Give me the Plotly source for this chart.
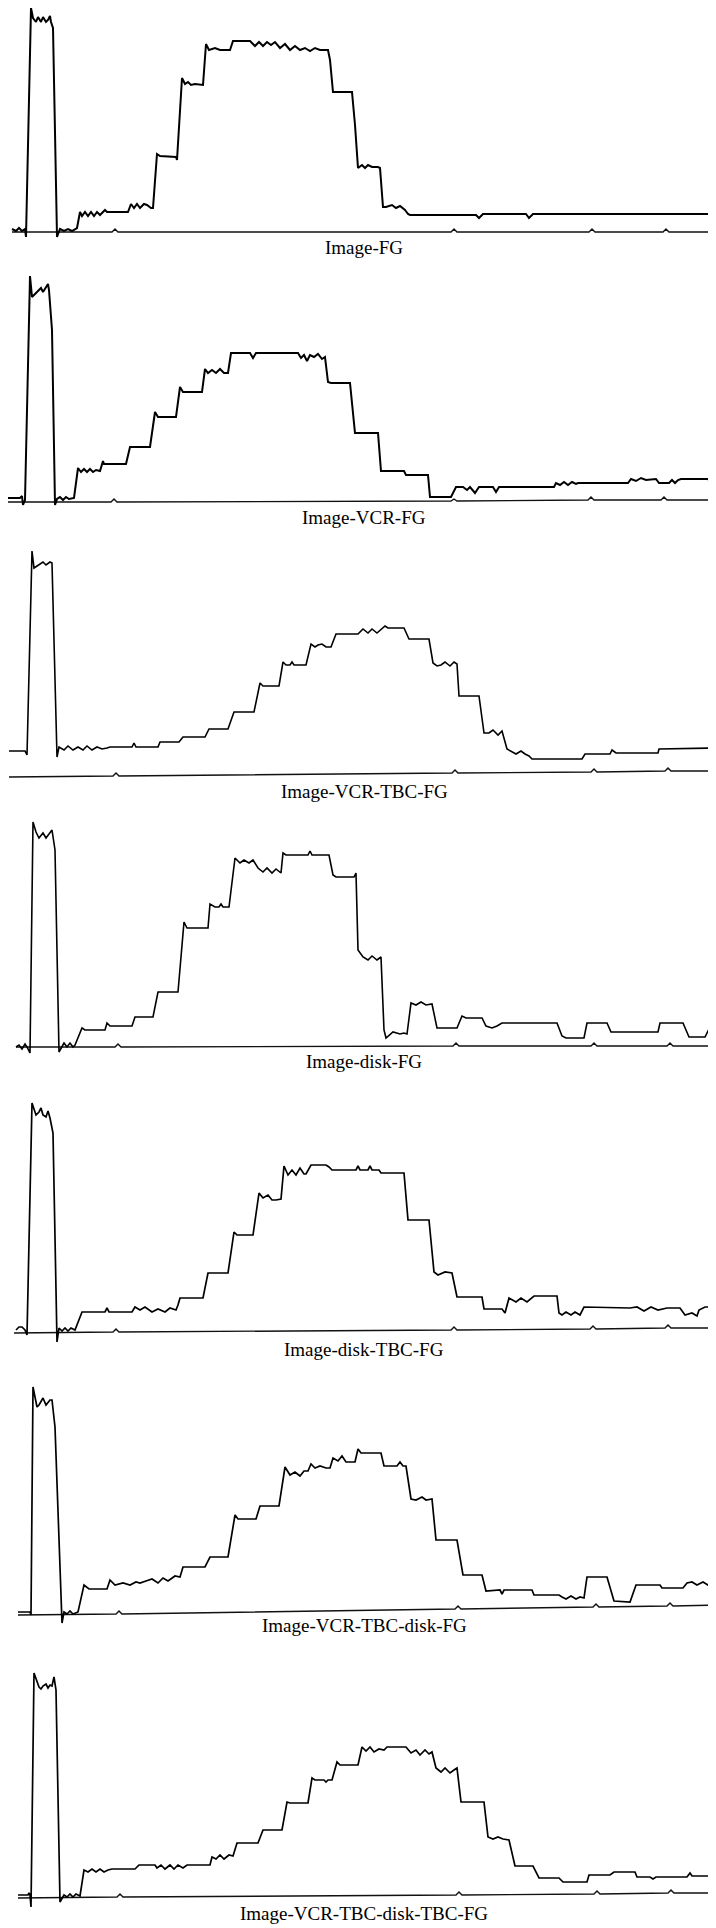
import plotly.graph_objects as go

# The page body adds an 8 px margin around the figure; positions below are page pixels.
PAGE_W, PAGE_H = 716, 1928
OFF = 8
W, H = PAGE_W - OFF, PAGE_H - OFF

captions = ["Image-FG", "Image-VCR-FG", "Image-VCR-TBC-FG", "Image-disk-FG",
            "Image-disk-TBC-FG", "Image-VCR-TBC-disk-FG", "Image-VCR-TBC-disk-TBC-FG"]

# waveform traces: (time sample, level above reference line)
fg_wave = [(12,3),(16,1),(19,4),(22,1),(25,3),(26,-5),(31,224),(33,214),(36,210),(38,215),(41,210),(43,215),(46,210),(48,212),(50,216),(51,210),(53,204),(57,-5),(60,3),(64,1),(68,3),(72,1),(77,4),(80,20),(82,16),(85,20),(88,16),(91,20),(94,16),(97,20),(100,17),(105,22),(107,20),(128,20),(131,28),(134,24),(137,28),(140,24),(144,28),(147,27),(151,24),(153,24),(157,78),(160,76),(176,75),(177,72),(182,154),(185,148),(188,150),(191,147),(195,148),(203,147),(206,188),(209,182),(215,184),(220,182),(230,182),(233,191),(250,191),(255,186),(259,190),(263,186),(267,190),(271,187),(275,190),(280,184),(285,188),(290,182),(295,186),(300,182),(305,184),(310,181),(315,184),(320,182),(328,182),(330,172),(333,140),(352,140),(355,107),(358,64),(362,67),(365,64),(368,67),(372,65),(378,65),(380,64),(383,25),(386,25),(392,27),(396,24),(400,26),(405,22),(408,18),(410,17),(476,17),(479,14),(483,18),(526,18),(529,14),(533,18),(716,18)]

vcr_wave = [(8,4),(20,4),(22,6),(23,-3),(25,2),(30,226),(32,205),(35,208),(38,211),(41,214),(43,210),(46,215),(48,218),(49,212),(52,172),(55,-3),(57,3),(60,5),(63,2),(66,5),(69,3),(74,4),(78,34),(81,30),(84,33),(87,30),(90,33),(93,30),(96,32),(100,31),(103,41),(104,38),(126,38),(130,55),(150,55),(155,90),(158,85),(176,85),(180,115),(183,110),(202,110),(205,133),(208,129),(212,132),(216,129),(220,133),(224,129),(228,129),(231,149),(250,149),(253,144),(256,149),(298,149),(301,144),(304,147),(307,141),(310,147),(314,145),(318,148),(322,143),(325,145),(328,120),(331,119),(350,119),(355,69),(378,69),(381,31),(404,31),(406,27),(428,27),(430,5),(451,5),(456,15),(463,15),(467,12),(470,15),(475,9),(479,15),(493,15),(496,10),(499,15),(554,15),(556,19),(560,17),(564,20),(568,17),(572,20),(576,18),(578,19),(628,19),(631,23),(636,21),(641,24),(646,22),(656,23),(659,19),(669,19),(672,22),(675,19),(678,22),(681,23),(708,23),(711,19),(716,18)]

vcr_tbc_wave = [(9,26),(25,26),(27,22),(32,226),(34,209),(39,212),(43,215),(46,212),(50,215),(52,214),(57,20),(59,30),(64,27),(68,31),(73,27),(78,30),(83,27),(87,31),(92,27),(97,30),(102,28),(107,29),(110,30),(132,30),(134,34),(136,30),(158,30),(160,35),(179,35),(183,40),(205,40),(209,48),(228,48),(234,65),(254,65),(260,94),(263,91),(279,91),(283,115),(286,112),(290,112),(292,115),(294,112),(306,112),(311,133),(315,130),(318,132),(322,133),(326,130),(331,130),(336,143),(358,143),(363,148),(368,144),(372,148),(377,144),(381,148),(385,151),(388,149),(404,149),(409,138),(429,138),(433,114),(437,111),(441,112),(445,115),(450,111),(454,115),(457,113),(459,81),(479,81),(484,44),(489,44),(493,47),(498,42),(502,46),(507,28),(511,26),(516,23),(521,26),(525,23),(529,21),(532,18),(582,18),(585,23),(610,23),(612,27),(616,24),(658,24),(659,28),(716,29)]

disk_wave = [(16,0),(19,2),(22,-2),(25,3),(27,0),(30,-6),(33,225),(36,215),(39,209),(43,214),(46,209),(50,214),(52,217),(55,197),(59,-5),(64,4),(67,0),(70,4),(73,0),(75,2),(82,19),(85,17),(105,17),(107,24),(110,21),(132,21),(135,30),(153,30),(158,55),(178,55),(184,125),(187,119),(208,119),(210,143),(215,140),(219,140),(221,143),(223,140),(229,140),(235,189),(240,184),(244,187),(249,184),(253,187),(258,179),(263,175),(267,179),(272,174),(276,178),(281,174),(283,194),(286,192),(308,192),(310,196),(312,192),(329,192),(333,172),(336,170),(354,170),(356,174),(358,97),(363,90),(368,87),(372,91),(377,87),(381,90),(384,17),(386,9),(393,15),(400,13),(404,14),(407,13),(411,44),(416,42),(421,45),(426,42),(432,43),(437,19),(457,19),(462,31),(466,29),(482,29),(486,21),(492,19),(497,21),(502,24),(557,24),(562,11),(566,9),(584,9),(587,24),(607,24),(611,15),(658,15),(660,24),(683,24),(689,10),(705,10),(712,24),(716,17)]

disk_tbc_wave = [(16,3),(19,6),(22,6),(25,3),(27,-2),(32,230),(36,218),(39,221),(41,225),(43,218),(46,216),(48,222),(50,215),(53,200),(57,-9),(59,5),(62,2),(65,5),(68,2),(71,5),(75,3),(82,21),(105,21),(107,25),(109,21),(132,21),(135,26),(140,23),(145,26),(152,21),(158,24),(165,21),(170,25),(176,23),(178,28),(180,35),(203,35),(208,60),(228,60),(234,101),(237,98),(253,98),(259,140),(263,135),(268,138),(272,133),(276,133),(281,134),(284,167),(288,158),(292,163),(296,158),(300,165),(304,159),(306,159),(311,168),(326,168),(329,166),(332,163),(356,163),(358,167),(360,163),(368,163),(370,167),(372,163),(379,163),(381,160),(404,160),(408,113),(429,113),(434,61),(438,58),(445,61),(452,60),(457,36),(482,36),(484,24),(502,24),(505,20),(509,35),(516,31),(521,35),(527,31),(534,37),(557,37),(559,20),(562,18),(566,21),(571,18),(575,21),(580,18),(584,26),(630,25),(637,26),(644,22),(651,26),(658,23),(667,25),(680,25),(685,18),(692,20),(697,17),(699,23),(705,26),(716,26)]

vcr_tbc_disk_wave = [(18,3),(30,3),(31,0),(33,228),(37,208),(39,210),(43,217),(46,210),(50,215),(52,215),(55,188),(62,-8),(64,3),(67,1),(70,4),(73,1),(78,3),(84,30),(89,26),(107,26),(110,35),(115,30),(123,32),(130,30),(136,33),(140,32),(146,34),(152,36),(158,32),(163,37),(168,34),(175,39),(180,38),(183,48),(205,48),(210,58),(228,58),(235,100),(238,96),(256,96),(260,109),(279,109),(285,148),(290,140),(295,143),(300,139),(304,144),(308,144),(311,151),(315,147),(320,149),(326,147),(330,147),(333,157),(338,154),(342,159),(346,153),(355,153),(358,166),(361,162),(381,162),(384,149),(397,149),(400,153),(403,149),(406,149),(411,116),(416,115),(422,118),(426,115),(432,116),(436,75),(457,75),(463,40),(482,40),(486,24),(500,25),(502,21),(504,25),(532,25),(534,20),(559,20),(562,18),(566,16),(571,19),(576,16),(580,18),(584,17),(587,38),(607,38),(614,14),(630,13),(636,30),(660,30),(662,27),(683,27),(687,32),(692,33),(697,30),(703,33),(708,30),(716,32)]

vcr_tbc_disk_tbc_wave = [(18,3),(28,3),(29,5),(30,3),(31,-9),(34,225),(39,211),(41,209),(43,212),(46,214),(48,210),(50,213),(52,212),(54,221),(56,208),(60,-4),(64,3),(67,1),(70,4),(73,1),(76,4),(80,2),(84,28),(88,26),(92,29),(96,26),(100,29),(104,26),(108,28),(112,29),(135,29),(139,33),(155,33),(157,30),(161,33),(165,29),(170,33),(174,29),(178,33),(183,30),(187,33),(210,33),(212,41),(216,39),(220,43),(224,39),(229,43),(233,42),(237,55),(258,55),(263,68),(282,68),(287,96),(290,95),(308,95),(312,120),(315,118),(324,118),(326,116),(328,118),(332,118),(337,136),(340,133),(358,133),(362,151),(366,147),(370,151),(374,146),(379,149),(384,148),(387,151),(406,151),(411,145),(416,148),(420,143),(425,148),(429,144),(432,146),(436,130),(441,126),(445,130),(450,125),(454,128),(457,130),(461,96),(484,96),(488,61),(493,59),(498,61),(503,59),(509,58),(515,32),(533,32),(539,20),(559,20),(563,16),(587,16),(589,23),(610,23),(614,26),(635,26),(637,21),(650,21),(653,19),(656,21),(687,21),(690,25),(692,22),(710,22),(713,26),(716,26)]

# reference (time-marker) lines
fg_ref = [(12,0),(112,0),(115,3),(118,0),(451,0),(454,3),(457,0),(589,0),(592,3),(595,0),(663,0),(666,3),(669,0),(716,0)]
vcr_ref = [(8,0),(111,0),(114,3),(117,0),(451,1),(454,3),(457,1),(588,2),(591,5),(594,2),(661,2),(664,5),(667,2),(716,2)]
vcr_tbc_ref = [(9,0),(113,1),(116,4),(119,1),(452,4),(455,7),(458,4),(591,5),(594,8),(597,5),(665,6),(668,9),(671,6),(716,6)]
disk_ref = [(16,0),(115,0),(118,3),(121,0),(453,1),(456,4),(459,1),(591,1),(594,4),(597,1),(667,1),(670,4),(673,1),(716,1)]
disk_tbc_ref = [(14,0),(113,1),(116,4),(119,1),(451,3),(454,6),(457,3),(590,4),(593,7),(596,4),(665,5),(668,8),(671,5),(716,5)]
vcr_tbc_disk_ref = [(18,0),(116,1),(119,4),(122,1),(455,6),(458,9),(461,6),(593,8),(596,11),(599,8),(667,9),(670,12),(673,9),(716,10)]
vcr_tbc_disk_tbc_ref = [(18,0),(117,1),(120,4),(123,1),(456,3),(459,6),(462,3),(594,4),(597,7),(600,4),(668,5),(671,8),(674,5),(716,5)]

waves = [fg_wave, vcr_wave, vcr_tbc_wave, disk_wave, disk_tbc_wave, vcr_tbc_disk_wave, vcr_tbc_disk_tbc_wave]
refs = [fg_ref, vcr_ref, vcr_tbc_ref, disk_ref, disk_tbc_ref, vcr_tbc_disk_ref, vcr_tbc_disk_tbc_ref]

# layout (page-pixel positions of each panel's reference line and caption)
ref_px = [232, 502, 777, 1047, 1333, 1615, 1898]
cap_px = [247, 517, 791, 1061, 1349, 1625, 1913]
cap_x_px = 364
wave_width = [2.0, 2.0, 1.6, 1.6, 1.7, 1.7, 1.7]

fig = go.Figure()
layout = dict(width=W, height=H, margin=dict(l=0, r=0, t=0, b=0),
              paper_bgcolor="white", plot_bgcolor="rgba(0,0,0,0)",
              showlegend=False, annotations=[])

for i in range(7):
    n = "" if i == 0 else str(i + 1)
    R = ref_px[i]
    top_px = max(OFF, R - 238)
    bot_px = R + 14
    layout["xaxis" + n] = dict(domain=[0, 1], range=[OFF, PAGE_W], visible=False, fixedrange=True)
    layout["yaxis" + n] = dict(domain=[1 - (bot_px - OFF) / H, 1 - (top_px - OFF) / H],
                               range=[R - bot_px, R - top_px], visible=False, fixedrange=True)
    rx, ry = zip(*refs[i])
    fig.add_trace(go.Scatter(x=rx, y=ry, mode="lines", xaxis="x" + n, yaxis="y" + n,
                             line=dict(color="#111", width=1.4), hoverinfo="skip"))
    wx, wy = zip(*waves[i])
    fig.add_trace(go.Scatter(x=wx, y=wy, mode="lines", xaxis="x" + n, yaxis="y" + n,
                             line=dict(color="#000", width=wave_width[i]), hoverinfo="skip"))
    layout["annotations"].append(dict(
        text=captions[i], xref="paper", yref="paper",
        x=(cap_x_px - OFF) / W, y=1 - (cap_px[i] - OFF) / H,
        xanchor="center", yanchor="middle", showarrow=False,
        font=dict(family="Liberation Serif, Times New Roman, serif", size=19, color="#000")))

fig.update_layout(**layout)
fig.write_html("out.html")
